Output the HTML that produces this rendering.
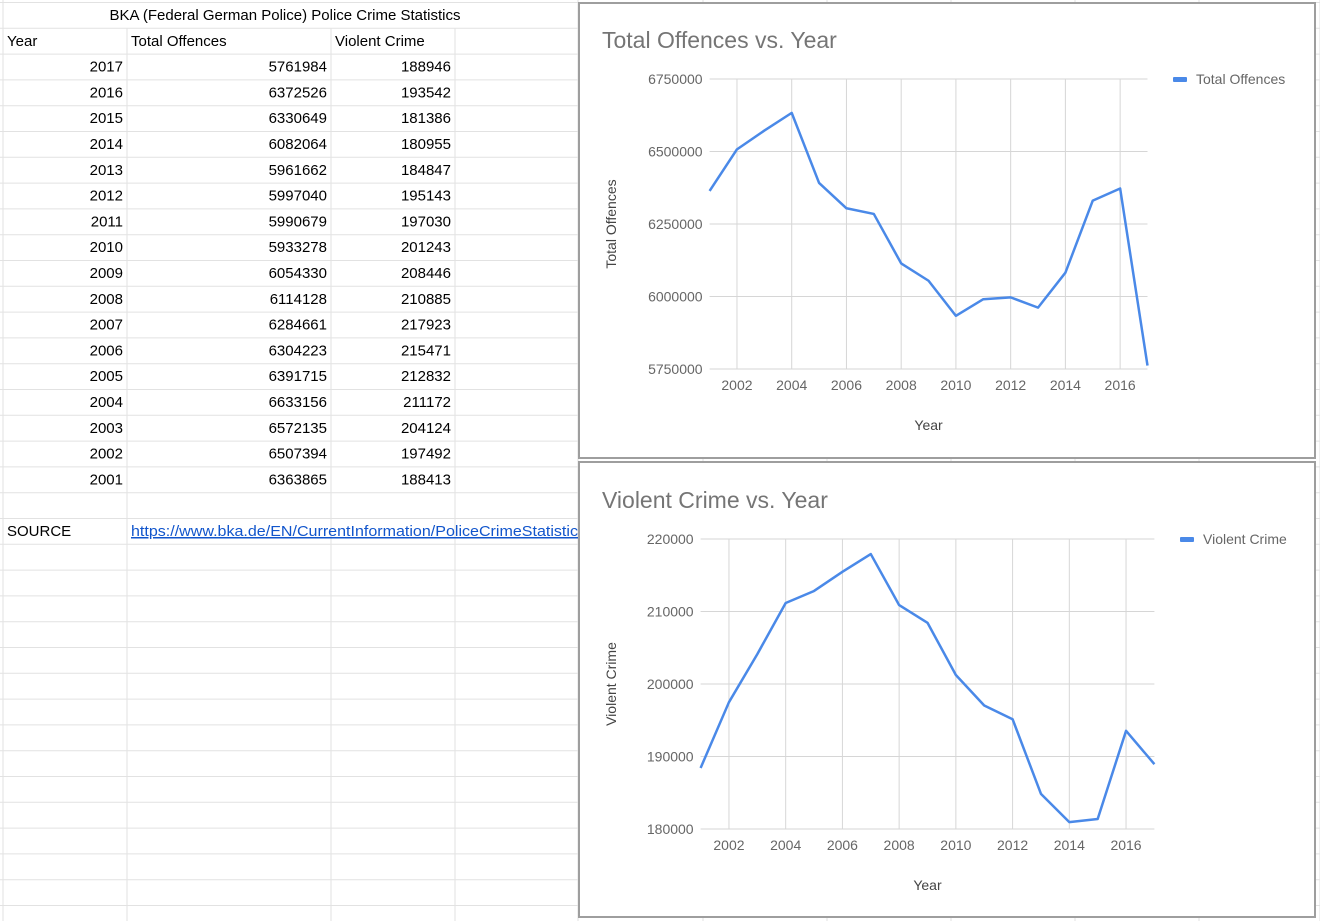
<!DOCTYPE html>
<html><head><meta charset="utf-8"><style>
body{margin:0;width:1320px;height:921px;overflow:hidden;background:#fff;font-family:"Liberation Sans",Arial,sans-serif;position:relative}
#sheet{position:absolute;left:0;top:0}
.panel{position:absolute;background:#fff;border:2px solid #9e9e9e;box-sizing:border-box}
</style></head><body>
<svg id="sheet" width="1320" height="921"></svg>
<div class="panel" style="left:578px;top:2px;width:738px;height:457px"></div>
<div class="panel" style="left:578px;top:461px;width:738px;height:457px"></div>
<svg id="charts" width="1320" height="921" style="position:absolute;left:0;top:0"></svg>
<script>
const years=[2017,2016,2015,2014,2013,2012,2011,2010,2009,2008,2007,2006,2005,2004,2003,2002,2001];
const totalOffences=[5761984,6372526,6330649,6082064,5961662,5997040,5990679,5933278,6054330,6114128,6284661,6304223,6391715,6633156,6572135,6507394,6363865];
const violentCrime=[188946,193542,181386,180955,184847,195143,197030,201243,208446,210885,217923,215471,212832,211172,204124,197492,188413];
const xTicks=[2002,2004,2006,2008,2010,2012,2014,2016];
const yTicks1=[5750000,6000000,6250000,6500000,6750000];
const yTicks2=[180000,190000,200000,210000,220000];
const NS="http://www.w3.org/2000/svg";
function mk(p,t,a,txt){const e=document.createElementNS(NS,t);for(const k in a)e.setAttribute(k,a[k]);if(txt!==undefined)e.textContent=txt;p.appendChild(e);return e;}
// sheet
const sh=document.getElementById('sheet');
const rowH=25.8, top0=2.5;
const cols=[3,127,331,455,578,703,827,951,1075,1199,1320];
for(let i=0;i<=36;i++){const y=top0+i*rowH;const l=mk(sh,'line',{x1:0,x2:1320,y1:y,y2:y,stroke:'#e2e2e2','stroke-width':1});
}
cols.forEach(x=>{const l=mk(sh,'line',{x1:x,x2:x,y1:(x>3&&x<578?top0+rowH:0),y2:921,stroke:'#e2e2e2','stroke-width':1});
});
const fs={'font-size':15,fill:'#000','font-family':'Liberation Sans, Arial, sans-serif'};
function cell(x,y,txt,anchor,name,extra){const t=mk(sh,'text',Object.assign({x:x,y:y,'text-anchor':anchor},fs,extra||{}),txt);
return t;}
cell(285,20,'BKA (Federal German Police) Police Crime Statistics','middle','sheet-title');
cell(7,46,'Year','start','header-year');cell(131,46,'Total Offences','start','header-total-offences');cell(335,46,'Violent Crime','start','header-violent-crime');
years.forEach((y,i)=>{const by=top0+(i+2)*rowH+17.5;
cell(123,by,y,'end','cell-year');cell(327,by,totalOffences[i],'end','cell-total-offences');cell(451,by,violentCrime[i],'end','cell-violent-crime');});
const sy=top0+20*rowH+17.5;
cell(7,sy,'SOURCE','start','source-label');
const lk=cell(131,sy,'https://www.bka.de/EN/CurrentInformation/PoliceCrimeStatistics','start','source-link',{fill:'#1155cc','text-decoration':'underline',textLength:455,lengthAdjust:'spacingAndGlyphs'});
const clip=mk(sh,'clipPath',{id:'cp'});mk(clip,'rect',{x:0,y:0,width:578,height:921});lk.setAttribute('clip-path','url(#cp)');
// charts
const ch=document.getElementById('charts');
function chart(o){
 const X=v=>o.x0+(v-2001)*(o.x1-o.x0)/16;
 const Y=v=>o.yb+(v-o.ymin)*(o.yt-o.yb)/(o.ymax-o.ymin);
 const g=mk(ch,'g',{});
 const t=mk(g,'text',{x:o.tx,y:o.ty,'font-size':23,fill:'#757575','font-family':'Liberation Sans, Arial, sans-serif'},o.title);
 
 xTicks.forEach(v=>{const l=mk(g,'line',{x1:X(v),x2:X(v),y1:Y(o.ymax),y2:Y(o.ymin),stroke:'#d6d6d6'});
  
  const tt=mk(g,'text',{x:X(v),y:Y(o.ymin)+21,'text-anchor':'middle','font-size':14,fill:'#666','font-family':'Liberation Sans, Arial, sans-serif'},v);
  });
 o.yt2.forEach(v=>{const l=mk(g,'line',{x1:o.x0,x2:o.x1,y1:Y(v),y2:Y(v),stroke:'#d6d6d6'});
  
  const tt=mk(g,'text',{x:o.x0-7,y:Y(v)+5,'text-anchor':'end','font-size':14,fill:'#666','font-family':'Liberation Sans, Arial, sans-serif'},v);
  });
 const pts=years.map((yr,i)=>[X(yr),Y(o.vals[i])]).sort((a,b)=>a[0]-b[0]);
 const p=mk(g,'polyline',{points:pts.map(q=>q.join(',')).join(' '),fill:'none',stroke:'#4a89e8','stroke-width':2.5,'stroke-linejoin':'round'});
 
 const xt=mk(g,'text',{x:(o.x0+o.x1)/2,y:Y(o.ymin)+61,'text-anchor':'middle','font-size':14,fill:'#444','font-family':'Liberation Sans, Arial, sans-serif'},'Year');
 
 const yc=(Y(o.ymin)+Y(o.ymax))/2;
 const yt=mk(g,'text',{x:o.ylx,y:yc,'text-anchor':'middle','font-size':14,fill:'#444',transform:`rotate(-90 ${o.ylx} ${yc})`,'font-family':'Liberation Sans, Arial, sans-serif'},o.ylabel);
 
 const lr=mk(g,'rect',{x:o.lgx,y:Y(o.ymax)-2,width:14,height:5,fill:'#4a89e8',rx:1});
 
 const lt=mk(g,'text',{x:o.lgx+23,y:Y(o.ymax)+5,'font-size':14,fill:'#666','font-family':'Liberation Sans, Arial, sans-serif'},o.ylabel);
 
}
chart({name:'total-offences-chart',title:'Total Offences vs. Year',tx:602,ty:48,x0:709.6,x1:1147.5,yb:369,yt:79,ymin:5750000,ymax:6750000,yt2:yTicks1,vals:totalOffences,ylabel:'Total Offences',ylx:616,lgx:1173});
chart({name:'violent-crime-chart',title:'Violent Crime vs. Year',tx:602,ty:508,x0:700.6,x1:1154.4,yb:829,yt:539,ymin:180000,ymax:220000,yt2:yTicks2,vals:violentCrime,ylabel:'Violent Crime',ylx:616,lgx:1180});
</script>
</body></html>
